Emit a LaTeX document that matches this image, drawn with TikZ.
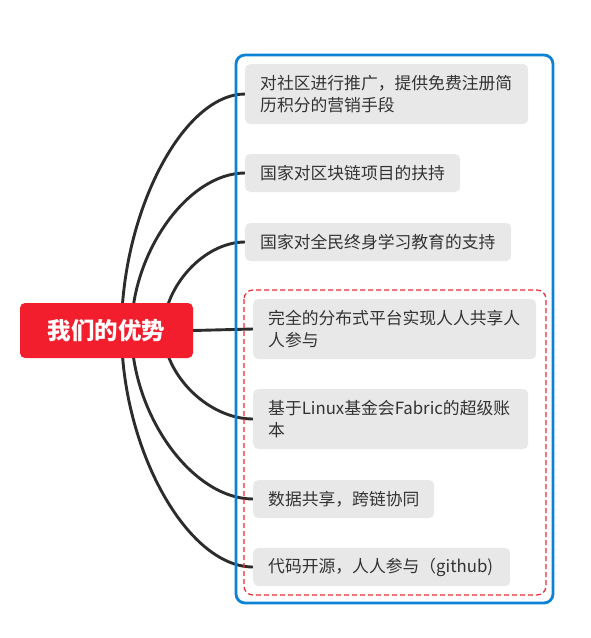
\documentclass[tikz,border=0pt]{standalone}
\usepackage{fontspec}
\setmainfont{Noto Sans CJK SC}
\usetikzlibrary{calc,backgrounds}
\definecolor{rootred}{RGB}{242,30,46}
\definecolor{framblue}{RGB}{12,130,214}
\definecolor{dashred}{RGB}{240,40,50}
\definecolor{topicgray}{RGB}{232,232,232}
\definecolor{inkgray}{RGB}{51,51,51}
\definecolor{linkgray}{RGB}{44,44,44}
\tikzset{
  rootbox/.style={fill=rootred, rounded corners=5pt, text=white,
    minimum width=173pt, minimum height=55pt, inner sep=0pt,
    font=\fontsize{23.5}{27}\selectfont\bfseries},
  topic/.style={fill=topicgray, rounded corners=5pt, text=inkgray,
    anchor=west, align=left, inner xsep=15pt, inner ysep=0pt,
    font=\fontsize{16.8}{22}\selectfont},
  link/.style={draw=linkgray, line width=2.9pt},
  outerframe/.style={draw=framblue, line width=2.8pt, rounded corners=9pt},
  innerframe/.style={draw=dashred, line width=1.2pt, dash pattern=on 5pt off 3pt, rounded corners=9pt}
}
\begin{document}
\begin{tikzpicture}[x=1pt,y=-1pt]
\useasboundingbox (0,0) rectangle (591,638);

% central topic
\node[rootbox] (root) at (106.5,330.5) {我们的优势};

% topics
\node[topic, text width=253pt, minimum height=60pt] (b1) at (245,94)
  {对社区进行推广，提供免费注册简\\历积分的营销手段};
\node[topic, text width=185pt, minimum height=38pt] (b2) at (245,173)
  {国家对区块链项目的扶持};
\node[topic, text width=236pt, minimum height=38pt] (b3) at (245,242)
  {国家对全民终身学习教育的支持};
\node[topic, text width=253pt, minimum height=60pt] (b4) at (253,329)
  {完全的分布式平台实现人人共享人\\人参与};
\node[topic, text width=245pt, minimum height=60pt] (b5) at (253,419)
  {基于Linux基金会Fabric的超级账\\本};
\node[topic, text width=151pt, minimum height=38pt] (b6) at (253,499)
  {数据共享，跨链协同};
\node[topic, text width=227pt, minimum height=38pt] (b7) at (253,567)
  {代码开源，人人参与（github)};

% connectors, kept behind the central topic
\begin{pgfonlayer}{background}
\draw[link] ($(root.center)+(15,0)$) .. controls ($(root.center)+(15,-118)$) and ($(b1.west)+(-62,0)$) .. (b1.west);
\draw[link] ($(root.center)+(25,0)$) .. controls ($(root.center)+(25,-78)$) and ($(b2.west)+(-57,0)$) .. (b2.west);
\draw[link] ($(root.center)+(57,0)$) .. controls ($(root.center)+(57,-44)$) and ($(b3.west)+(-41,0)$) .. (b3.west);
\draw[link] (root.east) -- (b4.west);
\draw[link] ($(root.center)+(57,0)$) .. controls ($(root.center)+(57,44)$) and ($(b5.west)+(-45,0)$) .. (b5.west);
\draw[link] ($(root.center)+(25,0)$) .. controls ($(root.center)+(25,84)$) and ($(b6.west)+(-61,0)$) .. (b6.west);
\draw[link] ($(root.center)+(15,0)$) .. controls ($(root.center)+(15,118)$) and ($(b7.west)+(-66,0)$) .. (b7.west);
\end{pgfonlayer}

% group frames
\draw[outerframe] (236,55) rectangle (553,603);
\draw[innerframe] (244,290) rectangle (546,595);
\end{tikzpicture}
\end{document}
